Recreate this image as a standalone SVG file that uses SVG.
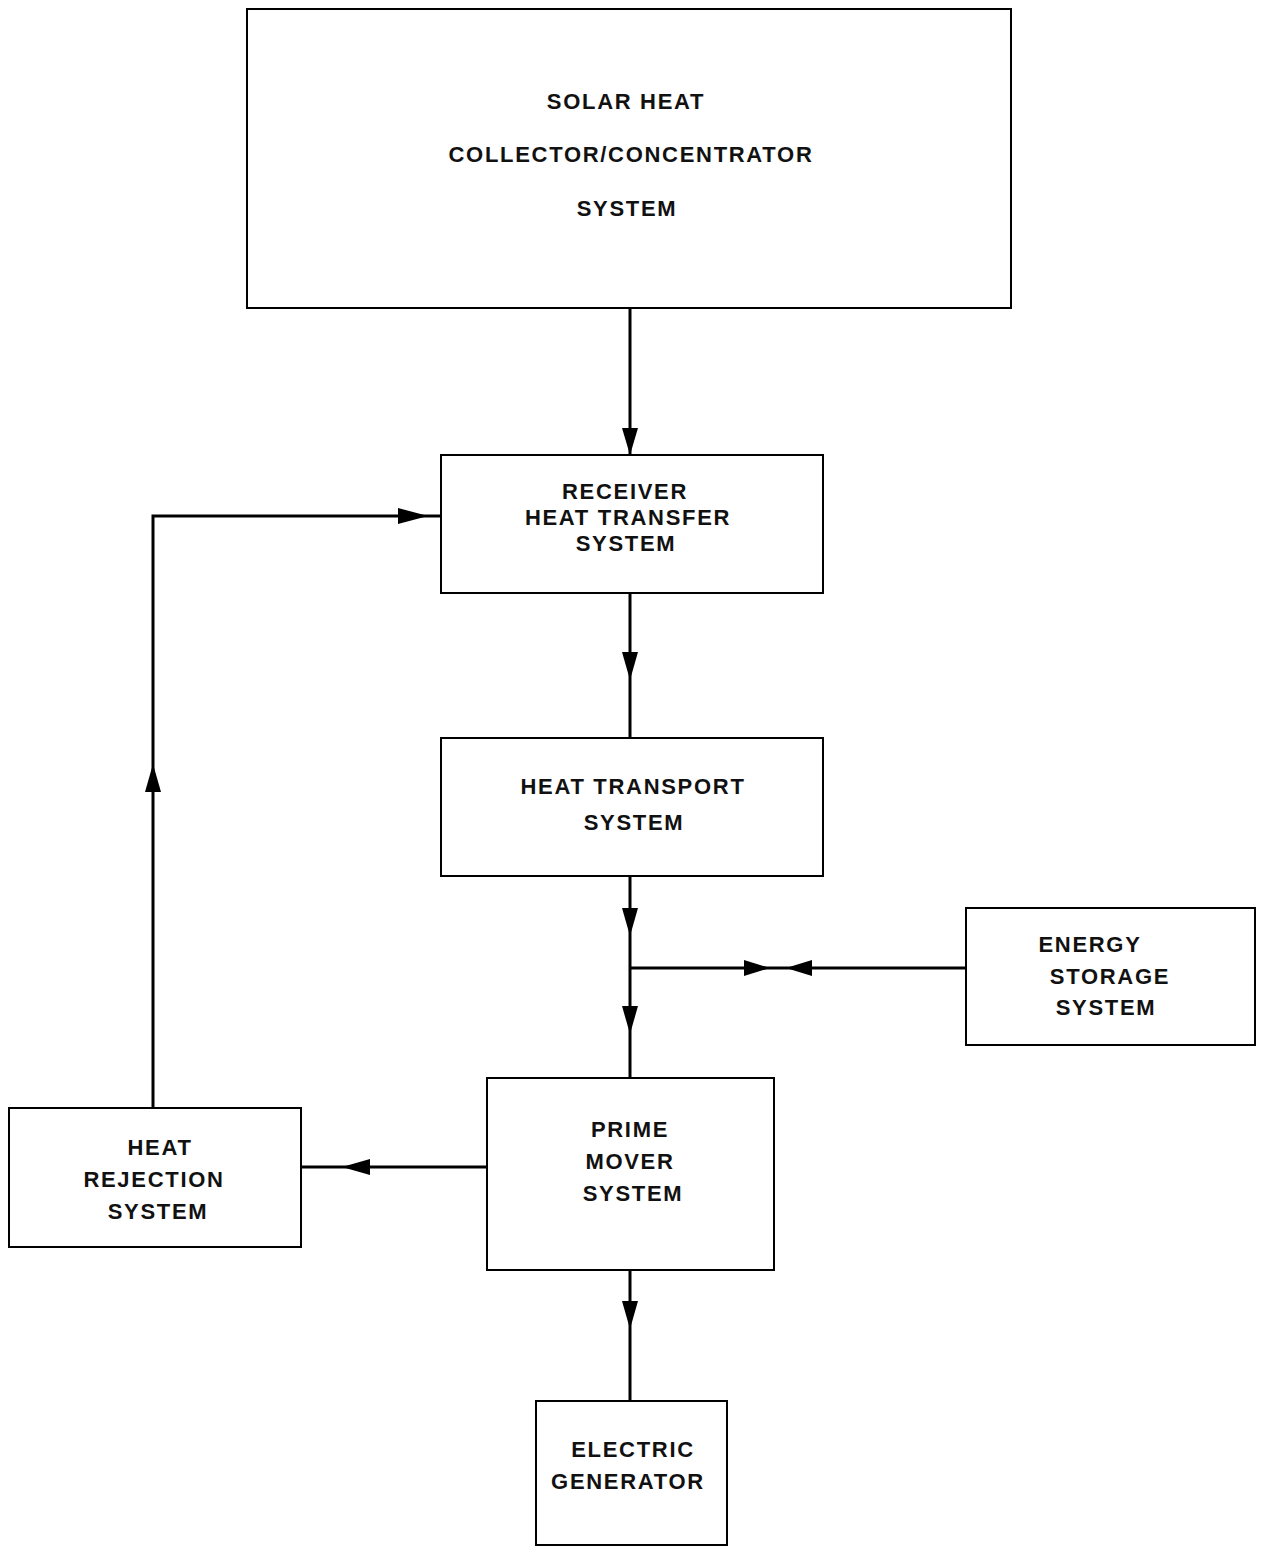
<svg xmlns="http://www.w3.org/2000/svg" width="1261" height="1547" viewBox="0 0 1261 1547">
<style>
.box{fill:#fff;stroke:#000;stroke-width:2}
.t{font-family:"Liberation Sans",Arial,sans-serif;font-size:22px;font-weight:bold;letter-spacing:1.7px;fill:#111;text-anchor:middle;dominant-baseline:central}
.ln{stroke:#000;stroke-width:3;fill:none}
.ah{fill:#000}
</style>
<rect width="1261" height="1547" fill="#fff"/>
<g id="connectors">
<path class="ln" d="M630 308V455"/>
<polygon class="ah" points="622,428 638,428 630,455"/>
<path class="ln" d="M630 593V738"/>
<polygon class="ah" points="622,652 638,652 630,680"/>
<path class="ln" d="M630 876V1078"/>
<polygon class="ah" points="622,908 638,908 630,936"/>
<polygon class="ah" points="622,1006 638,1006 630,1034"/>
<path class="ln" d="M630 968H966"/>
<polygon class="ah" points="744,960 744,976 770,968"/>
<polygon class="ah" points="812,960 812,976 786,968"/>
<path class="ln" d="M487 1167H301"/>
<polygon class="ah" points="370,1159 370,1175 342,1167"/>
<path class="ln" d="M153 1108V516H441"/>
<polygon class="ah" points="145,792 161,792 153,764"/>
<polygon class="ah" points="398,508 398,524 428,516"/>
<path class="ln" d="M630 1270V1401"/>
<polygon class="ah" points="622,1301 638,1301 630,1329"/>
</g>
<g id="solar">
<rect class="box" x="247" y="9" width="764" height="299"/>
<text class="t" x="626" y="101">SOLAR HEAT</text>
<text class="t" x="631" y="154">COLLECTOR/CONCENTRATOR</text>
<text class="t" x="627" y="208">SYSTEM</text>
</g>
<g id="receiver">
<rect class="box" x="441" y="455" width="382" height="138"/>
<text class="t" x="625" y="491">RECEIVER</text>
<text class="t" x="628" y="517">HEAT TRANSFER</text>
<text class="t" x="626" y="543">SYSTEM</text>
</g>
<g id="transport">
<rect class="box" x="441" y="738" width="382" height="138"/>
<text class="t" x="633" y="786">HEAT TRANSPORT</text>
<text class="t" x="634" y="822">SYSTEM</text>
</g>
<g id="storage">
<rect class="box" x="966" y="908" width="289" height="137"/>
<text class="t" x="1090" y="944">ENERGY</text>
<text class="t" x="1110" y="976">STORAGE</text>
<text class="t" x="1106" y="1007">SYSTEM</text>
</g>
<g id="prime">
<rect class="box" x="487" y="1078" width="287" height="192"/>
<text class="t" x="630" y="1129">PRIME</text>
<text class="t" x="630" y="1161">MOVER</text>
<text class="t" x="633" y="1193">SYSTEM</text>
</g>
<g id="rejection">
<rect class="box" x="9" y="1108" width="292" height="139"/>
<text class="t" x="160" y="1147">HEAT</text>
<text class="t" x="154" y="1179">REJECTION</text>
<text class="t" x="158" y="1211">SYSTEM</text>
</g>
<g id="generator">
<rect class="box" x="536" y="1401" width="191" height="144"/>
<text class="t" x="633" y="1449">ELECTRIC</text>
<text class="t" x="628" y="1481">GENERATOR</text>
</g>
</svg>
